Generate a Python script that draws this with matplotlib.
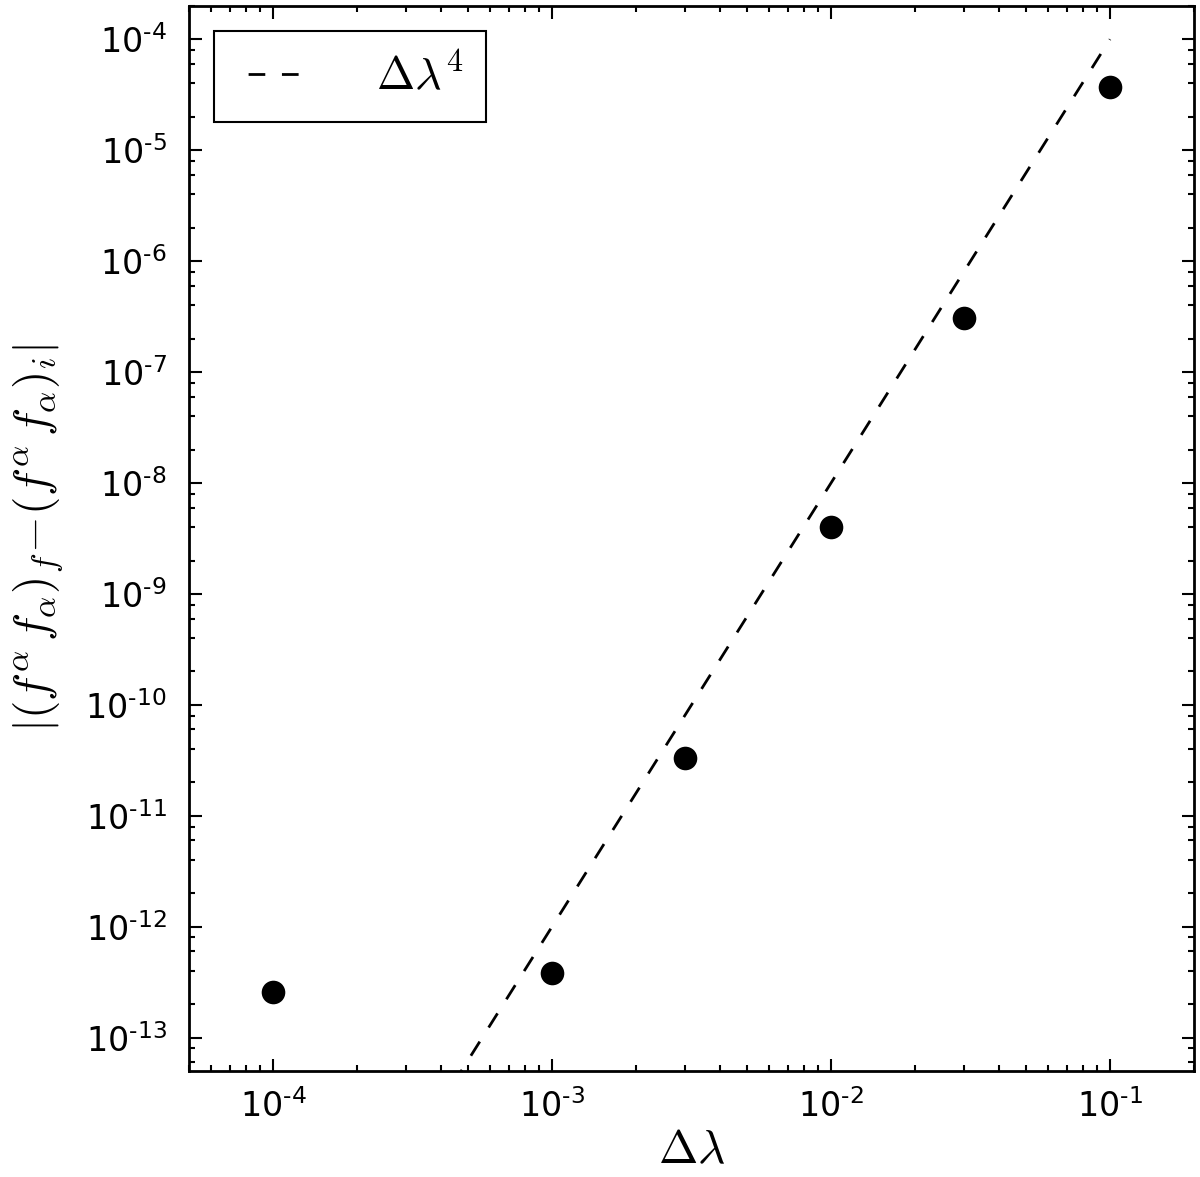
import numpy as np
import matplotlib
matplotlib.use("Agg")
import matplotlib.pyplot as plt
from matplotlib.ticker import LogLocator, FuncFormatter, NullFormatter

# step sizes and measured errors
dlam = [1e-4, 1e-3, 3e-3, 1e-2, 3e-2, 1e-1]
err = [2.6e-13, 3.85e-13, 3.3e-11, 4.0e-9, 3.1e-7, 3.7e-5]
# reference slope line
ref_x = [1e-4, 1e-3, 1e-2, 1e-1]
ref_y = [1e-16, 1e-12, 1e-8, 1e-4]

plt.rcParams['font.family'] = 'DejaVu Sans'
plt.rcParams['mathtext.fontset'] = 'dejavusans'

fig = plt.figure(figsize=(12, 11.77), dpi=100)
ax = fig.add_axes([0.1575, 0.090, 0.8375, 0.905])

ax.plot(ref_x, ref_y, color='black', lw=2, linestyle=(8, (6, 6)),
        label=r'$\Delta\lambda^4$')
ax.plot(dlam, err, 'o', color='black', markersize=17, markeredgewidth=0)

ax.set_xscale('log')
ax.set_yscale('log')
ax.set_xlim(5e-5, 0.2)
ax.set_ylim(5e-14, 2e-4)

def pow_label(v, pos):
    e = int(round(np.log10(v)))
    return '10$^{\\text{%d}}$' % e

ax.xaxis.set_major_locator(LogLocator(base=10, numticks=30))
ax.xaxis.set_minor_locator(LogLocator(base=10, subs=np.arange(2, 10), numticks=30))
ax.yaxis.set_major_locator(LogLocator(base=10, numticks=30))
ax.yaxis.set_minor_locator(LogLocator(base=10, subs=(2, 4, 6, 8), numticks=30))
ax.xaxis.set_major_formatter(FuncFormatter(pow_label))
ax.yaxis.set_major_formatter(FuncFormatter(pow_label))
ax.xaxis.set_minor_formatter(NullFormatter())
ax.yaxis.set_minor_formatter(NullFormatter())

ax.tick_params(which='both', direction='in', top=True, right=True, width=1.5)
ax.tick_params(which='major', length=9, labelsize=24)
ax.tick_params(axis='y', which='major', pad=16)
ax.tick_params(axis='x', which='major', pad=13)
ax.tick_params(which='minor', length=4.5)
for s in ax.spines.values():
    s.set_linewidth(2)

ax.set_xlabel(r'$\Delta\lambda$', fontsize=34, math_fontfamily='cm', labelpad=3)
ax.set_ylabel(r'$|(f^{\alpha}\,f_{\alpha})_f\!-\!(f^{\alpha}\,f_{\alpha})_i|$',
              fontsize=34, math_fontfamily='cm', labelpad=14)

leg = ax.legend(loc='upper left', bbox_to_anchor=(0.025, 0.976), borderaxespad=0,
                fontsize=33, handlelength=1.42, handletextpad=1.62, fancybox=False,
                framealpha=1, edgecolor='black', borderpad=0.5)
leg.get_frame().set_linewidth(1.5)
for t in leg.get_texts():
    t.set_math_fontfamily('cm')

fig.savefig('out.png', dpi=100)
